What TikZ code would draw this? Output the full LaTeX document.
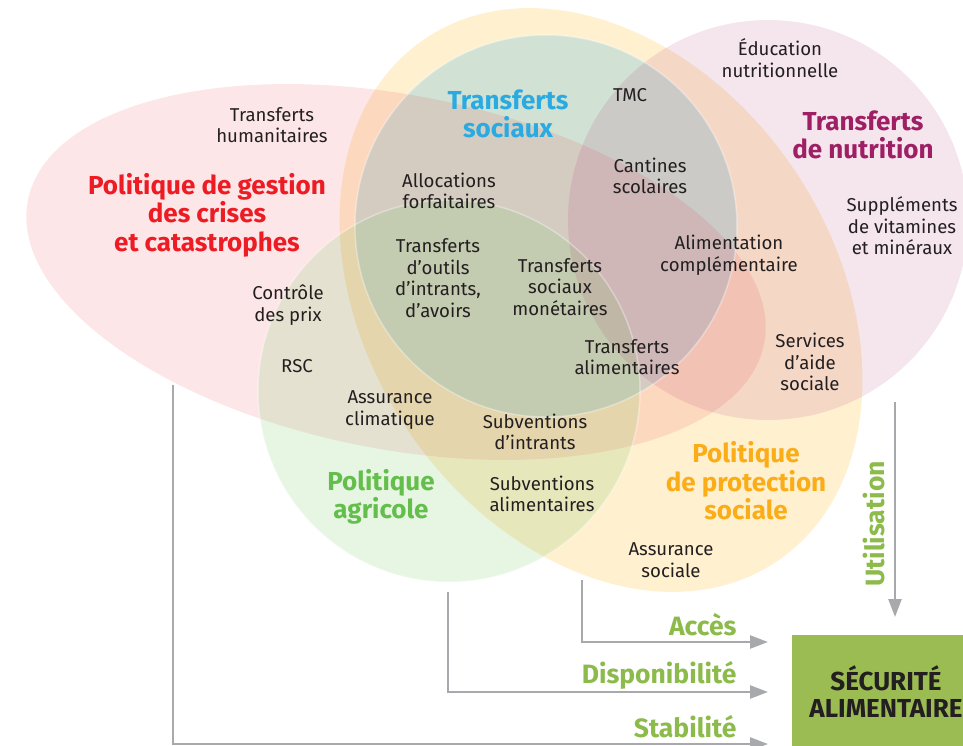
\documentclass[tikz,border=0pt]{standalone}
\usepackage{fontspec}
\setmainfont{Fira Sans}
\usetikzlibrary{arrows.meta}

\definecolor{ink}{HTML}{231F20}
\definecolor{crisisred}{HTML}{ED1C24}
\definecolor{socialblue}{HTML}{29ABE2}
\definecolor{nutripurple}{HTML}{9E1F63}
\definecolor{agrigreen}{HTML}{64BE4B}
\definecolor{protorange}{HTML}{FBAD18}
\definecolor{pillargreen}{HTML}{8CBA4B}
\definecolor{boxgreen}{HTML}{9BBB53}
\definecolor{arrowgray}{HTML}{A7A9AC}

\begin{document}
\begin{tikzpicture}[x=1pt,y=-1pt]
\tikzstyle{item}=[align=center, text=ink, font=\fontsize{18.6}{21.5}\selectfont]
\tikzstyle{policy}=[align=center, font=\bfseries\fontsize{26}{28.5}\selectfont]
\tikzstyle{pillar}=[text=pillargreen, font=\bfseries\fontsize{26.5}{28}\selectfont]
\tikzstyle{flow}=[draw=arrowgray, line width=2.5pt, -{Triangle[length=18pt,width=13pt]}]

\useasboundingbox (0,0) rectangle (963,745);
\clip (0,0) rectangle (963,745);

% policy areas
\fill[fill={rgb,255:red,253;green,185;blue,40}, fill opacity=0.22, rotate around={-56:(601,300)}] (601,300) ellipse [x radius=315, y radius=233];
\fill[fill={rgb,255:red,190;green,220;blue,215}, fill opacity=0.7] (546,226) circle (191);
\fill[fill={rgb,255:red,237;green,50;blue,60}, fill opacity=0.12, rotate around={-11:(396,272)}] (396,272) ellipse [x radius=375, y radius=177];
\fill[fill={rgb,255:red,120;green,200;blue,100}, fill opacity=0.18] (449,391) circle (191);
\fill[fill={rgb,255:red,170;green,40;blue,110}, fill opacity=0.12] (768,220) circle (200);
\draw[white, opacity=0.35, line width=1.5pt] (546,226) circle (191);
\draw[white, opacity=0.35, line width=1.5pt] (449,391) circle (191);

% policy names
\draw (207,215) node[policy, text=crisisred] (crises) {Politique de gestion\\des crises\\et catastrophes};
\draw (508,114) node[policy, text=socialblue] (sociaux) {Transferts\\sociaux};
\draw (863,135) node[policy, text=nutripurple] (nutrition) {Transferts\\de nutrition};
\draw (381,497) node[policy, text=agrigreen] (agricole) {Politique\\agricole};
\draw (746,481) node[policy, text=protorange] (protection) {Politique\\de protection\\sociale};

% instruments
\draw (272,125) node[item] (humani) {Transferts\\humanitaires};
\draw (630,95) node[item] (tmc) {TMC};
\draw (780,58) node[item] (educ) {Éducation\\nutritionnelle};
\draw (449,191) node[item] (alloc) {Allocations\\forfaitaires};
\draw (650,176) node[item] (cantines) {Cantines\\scolaires};
\draw (902,226) node[item] (supp) {Suppléments\\de vitamines\\et minéraux};
\draw (438,278) node[item] (outils) {Transferts\\d’outils\\d’intrants,\\d’avoirs};
\draw (560,287) node[item] (monet) {Transferts\\sociaux\\monétaires};
\draw (729,255) node[item] (complem) {Alimentation\\complémentaire};
\draw (288,305) node[item] (prix) {Contrôle\\des prix};
\draw (627,357) node[item] (alim) {Transferts\\alimentaires};
\draw (810,362) node[item] (aide) {Services\\d’aide\\sociale};
\draw (297,366) node[item] (rsc) {RSC};
\draw (390,410) node[item] (climat) {Assurance\\climatique};
\draw (535,432) node[item] (intrants) {Subventions\\d’intrants};
\draw (542,494) node[item] (subalim) {Subventions\\alimentaires};
\draw (671,560) node[item] (assoc) {Assurance\\sociale};

% food security
\draw (886,692) node[fill=boxgreen, minimum width=188, minimum height=114, align=center, text=ink, font=\bfseries\fontsize{26}{27}\selectfont] (secu) {SÉCURITÉ\\ALIMENTAIRE};

\coordinate (stabsrc) at (173,385);
\coordinate (dispsrc) at (448,592);
\coordinate (accsrc) at (582,580);
\coordinate (utilsrc) at (895,402);
\coordinate (accend) at (768,642);
\coordinate (dispend) at (768,692);
\coordinate (stabend) at (768,744);
\coordinate (utilend) at (895,617);

\draw[flow] (accsrc) |- (accend);
\draw[flow] (dispsrc) |- (dispend);
\draw[flow] (stabsrc) |- (stabend);
\draw[flow] (utilsrc) -- (utilend);

\draw (740,625) node[pillar, anchor=east] (acces) {Accès};
\draw (740,675) node[pillar, anchor=east] (dispo) {Disponibilité};
\draw (740,727) node[pillar, anchor=east] (stab) {Stabilité};
\draw (874,524) node[pillar, rotate=90] (util) {Utilisation};
\end{tikzpicture}
\end{document}
